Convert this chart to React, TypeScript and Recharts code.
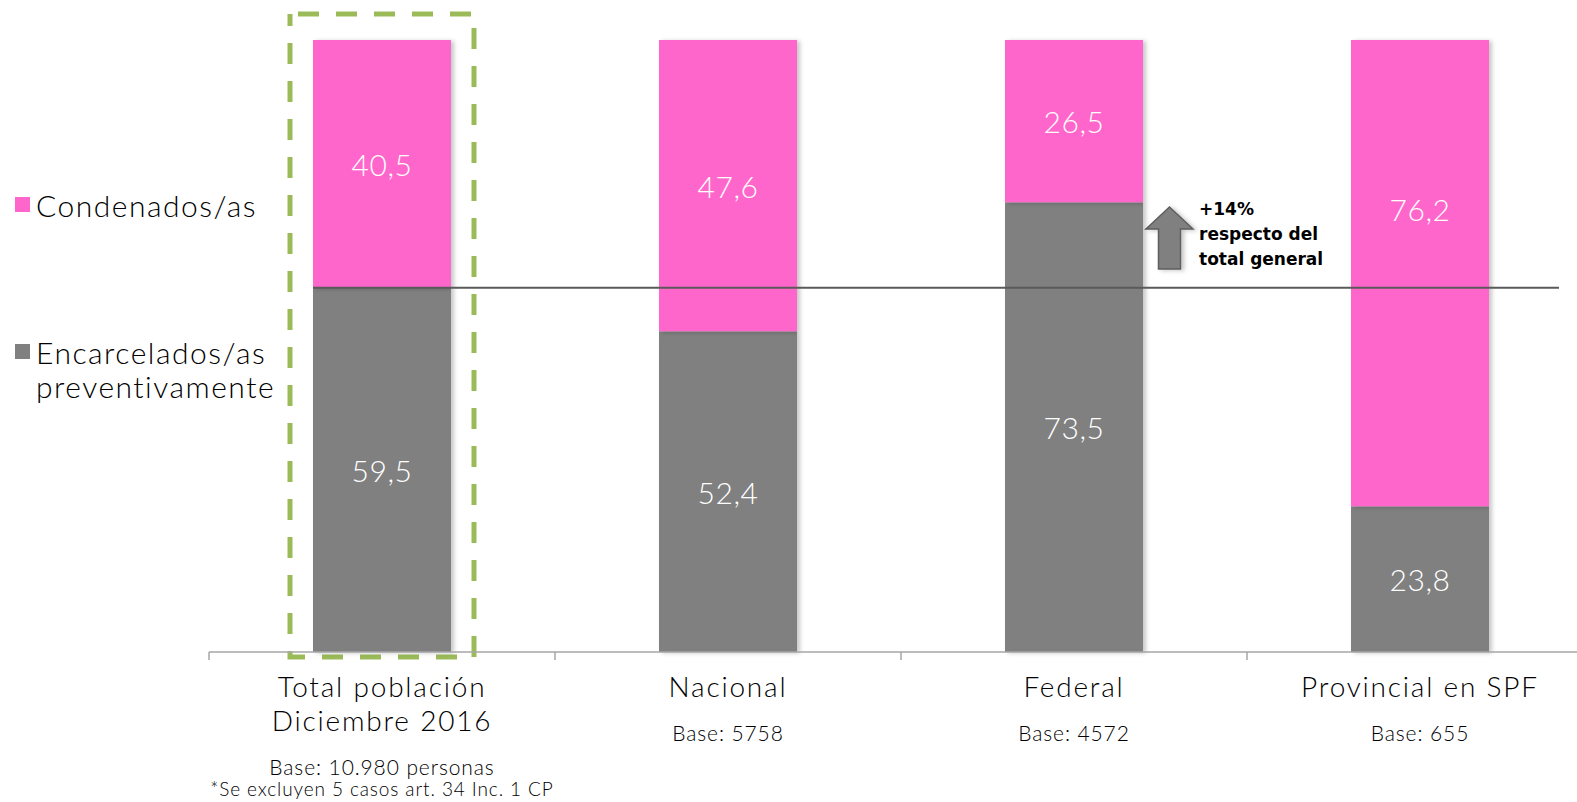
import { Bar, BarChart, LabelList, Legend, ReferenceArea, ReferenceLine, XAxis, YAxis } from "recharts";

const categories = ["Total población Diciembre 2016", "Nacional", "Federal", "Provincial en SPF"];
const categoryLines = [["Total población", "Diciembre 2016"], ["Nacional"], ["Federal"], ["Provincial en SPF"]];
const baseNotes = [
  ["Base: 10.980 personas", "*Se excluyen 5 casos art. 34 Inc. 1 CP"],
  ["Base: 5758"],
  ["Base: 4572"],
  ["Base: 655"],
];
const preventivos = [59.5, 52.4, 73.5, 23.8];
const condenados = [40.5, 47.6, 26.5, 76.2];
const totalReference = 59.5;
const annotationLines = ["+14%", "respecto del", "total general"];

const seriesNames = ["Encarcelados/as preventivamente", "Condenados/as"];
const legendOrder = ["Condenados/as", "Encarcelados/as preventivamente"];
const legendLines: Record<string, string[]> = {
  "Condenados/as": ["Condenados/as"],
  "Encarcelados/as preventivamente": ["Encarcelados/as", "preventivamente"],
};

const PINK = "#FF66CC";
const GREY = "#808080";
const FONT = "Lato, 'Open Sans', sans-serif";
const BAR_SIZE = 138;

const data = categories.map((name, i) => ({
  name,
  preventivos: preventivos[i],
  condenados: condenados[i],
}));

const fmt = (v: any) => Number(v).toFixed(1).replace(".", ",");

// the 76,2 label sits higher than the segment centre in the original
const condenadosLabelShift = [0, 0, 0, -64];

function ValueLabel(props: any) {
  const { x, y, width, height, value, index, shift } = props;
  const dy = shift ? shift[index] ?? 0 : 0;
  return (
    <text
      x={x + width / 2}
      y={y + height / 2 + dy}
      textAnchor="middle"
      dominantBaseline="central"
      fill="#fff"
      fontSize={30}
      fontWeight={300}
      fontFamily={FONT}
      letterSpacing={0.5}
    >
      {fmt(value)}
    </text>
  );
}

function CategoryTick(props: any) {
  const { x, y, payload } = props;
  const i = categories.indexOf(payload.value);
  const half = payload.offset ?? 173;
  const titles = categoryLines[i] ?? [];
  const notes = baseNotes[i] ?? [];
  const noteStart = y + 45 + (titles.length - 1) * 34 + 44;
  return (
    <g>
      <line x1={x - half} x2={x - half} y1={y} y2={y + 8} stroke="#A6A6A6" strokeWidth={1.5} />
      {titles.map((t, k) => (
        <text key={t} x={x} y={y + 45 + k * 34} textAnchor="middle" fontFamily={FONT} fontWeight={300} fontSize={28} letterSpacing={1.8} fill="#000">
          {t}
        </text>
      ))}
      {notes.map((t, k) => (
        <text key={t} x={x} y={noteStart + k * 21} textAnchor="middle" fontFamily={FONT} fontWeight={300} fontSize={k === 0 ? 21 : 19} letterSpacing={0.9} fill="#000">
          {t}
        </text>
      ))}
    </g>
  );
}

function SideLegend(props: any) {
  const items = [...(props.payload ?? [])].sort(
    (a: any, b: any) => legendOrder.indexOf(a.value) - legendOrder.indexOf(b.value)
  );
  const tops = [188, 335];
  return (
    <div style={{ position: "relative", width: 209, height: 420, fontFamily: FONT }}>
      {items.map((item: any, k: number) => (
        <div key={item.value} style={{ position: "absolute", left: 15, top: tops[k] }}>
          <div style={{ position: "absolute", left: 0, top: 9, width: 15, height: 15, background: item.color }} />
          <div
            style={{
              position: "absolute",
              left: 21,
              top: 0,
              fontSize: 30,
              fontWeight: 300,
              lineHeight: "34px",
              letterSpacing: 1.5,
              whiteSpace: "nowrap",
              color: "#000",
            }}
          >
            {(legendLines[item.value] ?? [item.value]).map((l) => (
              <div key={l}>{l}</div>
            ))}
          </div>
        </div>
      ))}
    </div>
  );
}

// dashed frame around the first bar, drawn inside that category's band
function HighlightFrame(props: any) {
  const { x, y, width, height } = props;
  const cx = x + width / 2;
  const w = BAR_SIZE + 46;
  return (
    <rect
      x={cx - w / 2}
      y={y - 26}
      width={w}
      height={height + 31}
      fill="none"
      stroke="#9BBB59"
      strokeWidth={5}
      strokeDasharray="21 17"
      strokeDashoffset={-8}
    />
  );
}

// block arrow just right of the Federal bar, from the total line up to the Federal level
function UpArrow(props: any) {
  const { x, width, y, height } = props;
  const left = x + width / 2 + BAR_SIZE / 2 + 3;
  const aw = 47;
  const cx = left + aw / 2;
  const shaft = 22;
  const head = 22;
  const pts = [
    [cx, y],
    [left + aw, y + head],
    [cx + shaft / 2, y + head],
    [cx + shaft / 2, y + height],
    [cx - shaft / 2, y + height],
    [cx - shaft / 2, y + head],
    [left, y + head],
  ]
    .map((p) => p.join(","))
    .join(" ");
  return (
    <g>
      <polygon points={pts} fill={GREY} stroke="#5E5E5E" strokeWidth={1.5} filter="url(#barShadow)" />
      {annotationLines.map((t, k) => (
        <text key={t} x={left + aw + 6} y={y + 8 + k * 25} fontFamily="'DejaVu Sans', sans-serif" fontWeight={700} fontSize={17} fill="#000">
          {t}
        </text>
      ))}
    </g>
  );
}

function TotalLine(props: any) {
  const { x1, x2, y1, y2 } = props;
  const band = (x2 - x1) / categories.length;
  return (
    <line
      x1={x1 + (band - BAR_SIZE) / 2}
      x2={x2 - 34}
      y1={y1}
      y2={y2}
      stroke="#5A5A5A"
      strokeWidth={2}
    />
  );
}

export default function App() {
  return (
    <div style={{ position: "absolute", left: 0, top: 0, width: 1577, height: 802, overflow: "hidden", background: "#fff" }}>
      <svg width={0} height={0} style={{ position: "absolute" }}>
        <defs>
          <filter id="barShadow" x="-10%" y="-10%" width="130%" height="130%">
            <feDropShadow dx={3} dy={1} stdDeviation={2} floodColor="#000" floodOpacity={0.22} />
          </filter>
        </defs>
      </svg>
      <BarChart width={1600} height={802} data={data} margin={{ top: 40, right: 7, bottom: 120, left: 209 }} barSize={BAR_SIZE}>
        <XAxis
          dataKey="name"
          height={30}
          interval={0}
          tickLine={false}
          tickSize={0}
          tickMargin={0}
          axisLine={{ stroke: "#A6A6A6", strokeWidth: 1.5 }}
          tick={<CategoryTick />}
        />
        <YAxis domain={[0, 100]} hide />
        <Legend layout="vertical" align="center" verticalAlign="middle" wrapperStyle={{ left: 0, top: 0 }} content={<SideLegend />} />
        <Bar dataKey="preventivos" name={seriesNames[0]} stackId="a" fill={GREY} isAnimationActive={false} filter="url(#barShadow)">
          <LabelList dataKey="preventivos" content={<ValueLabel />} />
        </Bar>
        <Bar dataKey="condenados" name={seriesNames[1]} stackId="a" fill={PINK} isAnimationActive={false} filter="url(#barShadow)">
          <LabelList dataKey="condenados" content={<ValueLabel shift={condenadosLabelShift} />} />
        </Bar>
        <ReferenceLine y={totalReference} ifOverflow="visible" shape={(p: any) => <TotalLine {...p} />} />
        <ReferenceArea x1={categories[0]} x2={categories[0]} y1={0} y2={100} ifOverflow="visible" shape={(p: any) => <HighlightFrame {...p} />} />
        <ReferenceArea x1={categories[2]} x2={categories[2]} y1={62.6} y2={72.7} ifOverflow="visible" shape={(p: any) => <UpArrow {...p} />} />
      </BarChart>
    </div>
  );
}
